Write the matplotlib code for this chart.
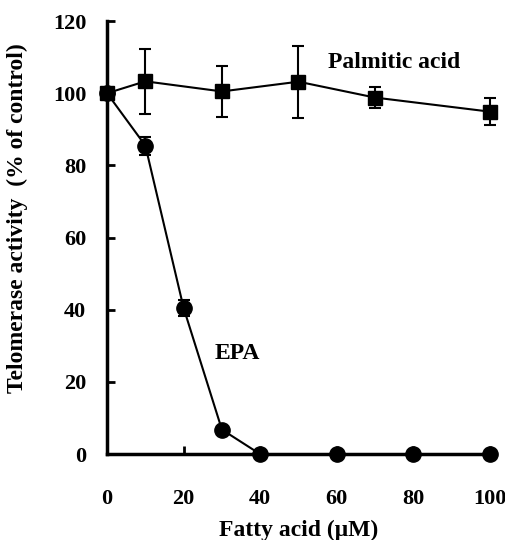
import matplotlib
matplotlib.use('Agg')
import matplotlib.pyplot as plt

# data
palm_x = [0, 10, 30, 50, 70, 100]
palm_y = [100, 103.3, 100.5, 103.2, 98.8, 94.9]
palm_err = [0, 9, 7, 10, 3, 3.8]

epa_x = [0, 10, 20, 30, 40, 60, 80, 100]
epa_y = [100, 85.5, 40.5, 6.8, 0, 0, 0, 0]
epa_err = [0, 2.5, 2.2, 0, 0, 0, 0, 0]

x_ticks = [0, 20, 40, 60, 80, 100]
y_ticks = [0, 20, 40, 60, 80, 100, 120]

plt.rcParams['font.family'] = ['Liberation Serif', 'DejaVu Serif']
plt.rcParams['font.weight'] = 'bold'

fig = plt.figure(figsize=(5.05, 5.4), dpi=100)
ax = fig.add_axes([0.212, 0.159, 0.758, 0.802])

ax.errorbar(palm_x, palm_y, yerr=palm_err, color='black', marker='s', markersize=9.5,
            linewidth=1.5, elinewidth=1.5, capsize=4, capthick=1.5, clip_on=False, zorder=3)
ax.errorbar(epa_x, epa_y, yerr=epa_err, color='black', marker='o', markersize=11,
            linewidth=1.5, elinewidth=1.5, capsize=4, capthick=1.5, clip_on=False, zorder=4)

ax.text(75, 108.5, 'Palmitic acid', fontsize=17, fontweight='bold', ha='center', va='center')
ax.text(34, 28, 'EPA', fontsize=17, fontweight='bold', ha='center', va='center')

ax.set_xlim(0, 100)
ax.set_ylim(0, 120)
ax.set_xticks(x_ticks)
ax.set_yticks(y_ticks)
ax.tick_params(direction='in', length=6, width=2, labelsize=16)
ax.tick_params(axis='x', pad=25)
ax.tick_params(axis='y', pad=15)
for lab in ax.get_xticklabels() + ax.get_yticklabels():
    lab.set_fontweight('bold')

ax.spines['top'].set_visible(False)
ax.spines['right'].set_visible(False)
ax.spines['left'].set_linewidth(2.5)
ax.spines['bottom'].set_linewidth(2.5)

ax.set_xlabel('Fatty acid (\u03bcM)', fontsize=17, fontweight='bold', labelpad=8)
ax.set_ylabel('Telomerase activity  (% of control)', fontsize=17, fontweight='bold')
ax.yaxis.set_label_coords(-0.207, 0.545)

fig.savefig('out.png', dpi=100)
